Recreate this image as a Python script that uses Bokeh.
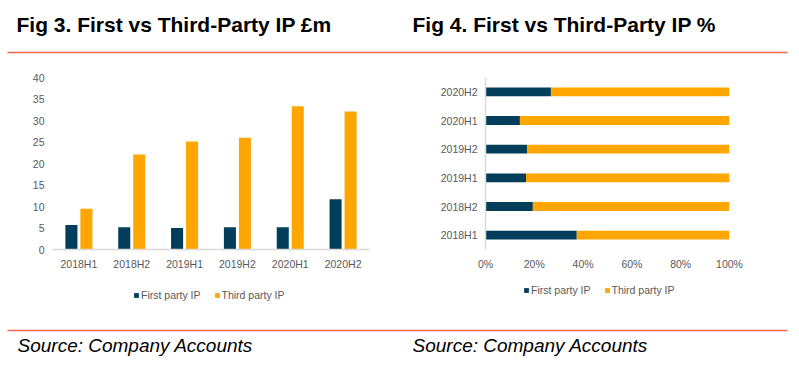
from bokeh.plotting import figure
from bokeh.layouts import column, row
from bokeh.models import Range1d, FactorRange, Legend, LegendItem, NumeralTickFormatter, FixedTicker, ColumnDataSource
from bokeh.transform import dodge
from bokeh.core.properties import value
from bokeh.embed import file_html
from bokeh.resources import INLINE

# ---------------- data ----------------
periods = ["2018H1", "2018H2", "2019H1", "2019H2", "2020H1", "2020H2"]
first_party = [5.7, 5.2, 5.0, 5.2, 5.2, 11.7]      # £m
third_party = [9.5, 22.1, 25.1, 26.0, 33.3, 32.1]  # £m
first_share = [0.374, 0.194, 0.166, 0.170, 0.141, 0.268]  # share of total
y_ticks = [0, 5, 10, 15, 20, 25, 30, 35, 40]
pct_ticks = [0, 0.2, 0.4, 0.6, 0.8, 1.0]
series_names = ["First party IP", "Third party IP"]
titles = ["Fig 3. First vs Third-Party IP £m", "Fig 4. First vs Third-Party IP %"]
source_text = "Source: Company Accounts"

# ---------------- style ----------------
DARK = "#023E5A"
ORANGE = "#FFA600"
RED = "#F96A4F"
GREY = "#595959"
AXIS = "#D9D9D9"
FONT = "Liberation Sans"
TICK_SIZE = "10.5px"

W = 799
H_HEAD, H_MID, H_LEG, H_FOOT = 58, 226, 34, 49


def blank(width, height):
    p = figure(width=width, height=height, x_range=Range1d(0, width), y_range=Range1d(height, 0),
               toolbar_location=None, output_backend="svg", min_border=0,
               x_axis_location=None, y_axis_location=None)
    p.grid.visible = False
    p.outline_line_color = None
    return p


# header
head = blank(W, H_HEAD)
head.text(x=[16, 412], y=[23.5, 23.5], text=titles, text_font=value(FONT), text_font_style="bold",
          text_font_size="21px", text_color="#000000", text_baseline="alphabetic")
head.line(x=[7, 787], y=[52, 52], line_color=RED, line_width=1.5)

# footer
foot = blank(W, H_FOOT)
foot.line(x=[7, 787], y=[12, 12], line_color=RED, line_width=1.5)
foot.text(x=[17, 412], y=[27, 27], text=[source_text, source_text], text_font=value(FONT),
          text_font_style="italic", text_font_size="19px", text_color="#000000",
          text_baseline="alphabetic")


def legend_strip(width, loc):
    s = blank(width, H_LEG)
    # zero-size proxy bars that only serve as legend keys
    key = ColumnDataSource(dict(x=[0], top=[0]))
    a = s.vbar(x="x", top="top", width=0, source=key, fill_color=DARK, line_color=None)
    b = s.vbar(x="x", top="top", width=0, source=key, fill_color=ORANGE, line_color=None)
    leg = Legend(items=[LegendItem(label=series_names[0], renderers=[a]),
                        LegendItem(label=series_names[1], renderers=[b])],
                 orientation="horizontal", location=loc,
                 glyph_width=6, glyph_height=6, label_standoff=2, spacing=13,
                 label_text_font=FONT, label_text_font_size=TICK_SIZE, label_text_color=GREY,
                 label_height=12, margin=0, padding=0,
                 background_fill_alpha=0, border_line_color=None)
    s.add_layout(leg)
    return s


def style_axes(p):
    for ax in (p.xaxis, p.yaxis):
        ax.major_tick_line_color = None
        ax.minor_tick_line_color = None
        ax.major_tick_out = 0
        ax.major_tick_in = 0
        ax.major_label_text_font = FONT
        ax.major_label_text_font_size = TICK_SIZE
        ax.major_label_text_color = GREY
        ax.major_label_standoff = 8


# ---------------- Fig 3: clustered columns ----------------
src = ColumnDataSource(dict(period=periods, first=first_party, third=third_party))
f3 = figure(width=400, height=H_MID, x_range=FactorRange(*periods), y_range=Range1d(0, 40),
            toolbar_location=None, output_backend="svg",
            min_border_left=52, min_border_right=31, min_border_top=19, min_border_bottom=31)
f3.vbar(x=dodge("period", -0.142, range=f3.x_range), top="first", width=0.228, source=src,
        fill_color=DARK, line_color=None)
f3.vbar(x=dodge("period", 0.142, range=f3.x_range), top="third", width=0.228, source=src,
        fill_color=ORANGE, line_color=None)
f3.grid.visible = False
f3.outline_line_color = None
f3.yaxis.ticker = FixedTicker(ticks=y_ticks)
f3.yaxis.axis_line_color = None
f3.xaxis.axis_line_color = AXIS
f3.xaxis.axis_line_width = 1.5
style_axes(f3)
f3.x_range.range_padding = 0

# ---------------- Fig 4: 100% stacked bars ----------------
src4 = ColumnDataSource(dict(period=periods, zero=[0] * len(periods), first=first_share,
                             one=[1] * len(periods)))
f4 = figure(width=399, height=H_MID, y_range=FactorRange(*periods), x_range=Range1d(0, 1),
            toolbar_location=None, output_backend="svg",
            min_border_left=85, min_border_right=70, min_border_top=18, min_border_bottom=35)
f4.hbar(y="period", left="zero", right="first", height=0.31, source=src4,
        fill_color=DARK, line_color=None)
f4.hbar(y="period", left="first", right="one", height=0.31, source=src4,
        fill_color=ORANGE, line_color=None)
f4.grid.visible = False
f4.outline_line_color = None
f4.xaxis.ticker = FixedTicker(ticks=pct_ticks)
f4.xaxis.formatter = NumeralTickFormatter(format="0%")
f4.xaxis.axis_line_color = None
f4.yaxis.axis_line_color = AXIS
f4.yaxis.axis_line_width = 1.5
style_axes(f4)
f4.y_range.range_padding = 0

leg3 = legend_strip(400, (133, 17))
leg4 = legend_strip(399, (123, 22))

layout = column(head, row(f3, f4), row(leg3, leg4), foot)
open("out.html", "w").write(file_html(layout, INLINE))
